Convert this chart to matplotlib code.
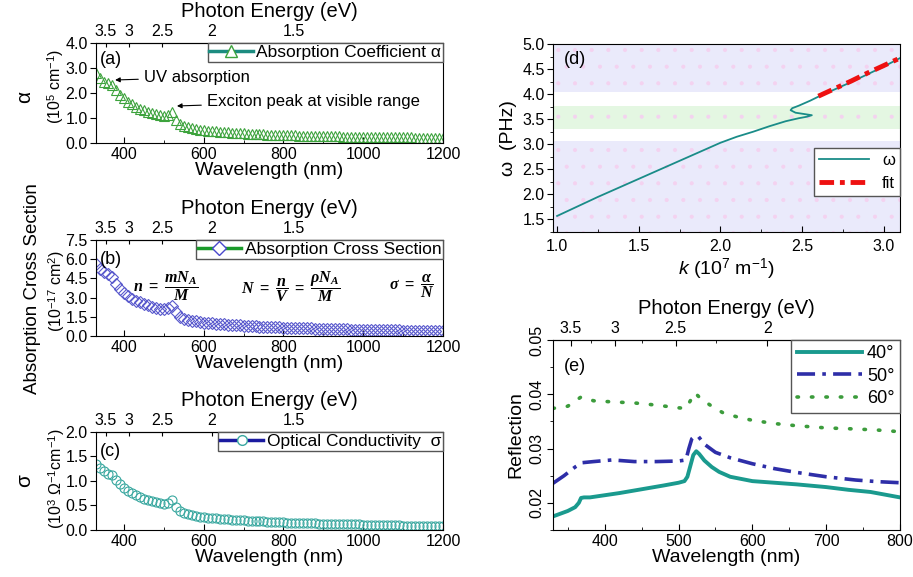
import numpy as np
import matplotlib
matplotlib.use("Agg")
import matplotlib.pyplot as plt
from matplotlib.lines import Line2D
from matplotlib.ticker import MultipleLocator, FormatStrFormatter

plt.rcParams['font.family'] = ['Liberation Sans', 'DejaVu Sans']
plt.rcParams['mathtext.fontset'] = 'custom'
plt.rcParams['mathtext.rm'] = 'Liberation Sans'
plt.rcParams['mathtext.it'] = 'Liberation Serif:italic:bold'
plt.rcParams['mathtext.bf'] = 'Liberation Serif:bold'
plt.rcParams['mathtext.sf'] = 'Liberation Sans:italic'
plt.rcParams['hatch.linewidth'] = 0.5

# ---- data: panels (a)-(c), wavelength in nm ----
wl = [330, 340, 350, 360, 370, 380, 390, 400, 410, 420,
      430, 440, 450, 460, 470, 480, 490, 500, 510, 520,
      530, 540, 550, 560, 570, 580, 590, 600, 610, 620,
      630, 640, 650, 660, 670, 680, 690, 700, 710, 720,
      730, 740, 750, 760, 770, 780, 790, 800, 810, 820,
      830, 840, 850, 860, 870, 880, 890, 900, 910, 920,
      930, 940, 950, 960, 970, 980, 990, 1000, 1010, 1020,
      1030, 1040, 1050, 1060, 1070, 1080, 1090, 1100, 1110, 1120,
      1130, 1140, 1150, 1160, 1170, 1180, 1190, 1200]

alpha = [2.78, 2.6, 2.45, 2.38, 2.3, 2.1, 1.93, 1.78, 1.65, 1.54,
         1.45, 1.37, 1.3, 1.24, 1.19, 1.14, 1.1, 1.07, 1.1, 1.22,
         0.92, 0.75, 0.67, 0.62, 0.58, 0.55, 0.53, 0.51, 0.49, 0.47,
         0.46, 0.44, 0.43, 0.42, 0.41, 0.4, 0.39, 0.38, 0.37, 0.36,
         0.355, 0.35, 0.34, 0.335, 0.33, 0.325, 0.32, 0.315, 0.31, 0.305,
         0.3, 0.295, 0.29, 0.285, 0.28, 0.278, 0.275, 0.27, 0.268, 0.265,
         0.262, 0.26, 0.257, 0.255, 0.252, 0.25, 0.248, 0.245, 0.243, 0.24,
         0.238, 0.236, 0.234, 0.232, 0.23, 0.228, 0.226, 0.224, 0.222, 0.22,
         0.218, 0.216, 0.214, 0.212, 0.21, 0.208, 0.206, 0.205]

cross = [5.6, 5.25, 5.0, 4.85, 4.6, 4.1, 3.7, 3.35, 3.1, 2.92,
         2.76, 2.62, 2.5, 2.4, 2.3, 2.2, 2.12, 2.07, 2.15, 2.38,
         1.85, 1.5, 1.35, 1.27, 1.2, 1.14, 1.09, 1.05, 1.01, 0.98,
         0.95, 0.92, 0.9, 0.88, 0.86, 0.84, 0.82, 0.8, 0.78, 0.77,
         0.75, 0.74, 0.72, 0.71, 0.7, 0.68, 0.67, 0.66, 0.65, 0.64,
         0.63, 0.62, 0.61, 0.6, 0.59, 0.58, 0.57, 0.56, 0.55, 0.54,
         0.535, 0.53, 0.52, 0.51, 0.505, 0.5, 0.49, 0.485, 0.48, 0.47,
         0.465, 0.46, 0.455, 0.45, 0.44, 0.435, 0.43, 0.425, 0.42, 0.415,
         0.41, 0.405, 0.4, 0.395, 0.39, 0.385, 0.38, 0.375]

cond = [1.35, 1.27, 1.2, 1.15, 1.12, 1.02, 0.93, 0.86, 0.8, 0.75,
        0.71, 0.67, 0.64, 0.61, 0.59, 0.57, 0.55, 0.54, 0.56, 0.62,
        0.47, 0.39, 0.35, 0.32, 0.3, 0.28, 0.27, 0.26, 0.25, 0.24,
        0.235, 0.23, 0.22, 0.215, 0.21, 0.205, 0.2, 0.195, 0.19, 0.185,
        0.18, 0.178, 0.175, 0.172, 0.17, 0.165, 0.16, 0.155, 0.152, 0.15,
        0.148, 0.145, 0.142, 0.14, 0.138, 0.135, 0.132, 0.13, 0.128, 0.126,
        0.124, 0.122, 0.12, 0.118, 0.116, 0.114, 0.112, 0.11, 0.108, 0.106,
        0.104, 0.102, 0.1, 0.098, 0.096, 0.094, 0.092, 0.09, 0.089, 0.088,
        0.087, 0.086, 0.085, 0.084, 0.083, 0.082, 0.081, 0.08]

# ---- data: panel (d), dispersion ----
k_vals = [1.0, 1.25, 1.5, 1.75, 2.0, 2.1, 2.2, 2.3, 2.4, 2.48, 2.53, 2.56,
          2.52, 2.46, 2.43, 2.44, 2.48, 2.55, 2.6, 2.8, 3.0, 3.1]
w_vals = [1.57, 1.95, 2.31, 2.67, 3.03, 3.15, 3.25, 3.36, 3.46, 3.52, 3.55, 3.58,
          3.6, 3.63, 3.68, 3.72, 3.77, 3.87, 3.95, 4.24, 4.55, 4.72]
k_fit = [2.6, 2.7, 2.8, 2.9, 3.0, 3.1]
w_fit = [3.96, 4.11, 4.26, 4.42, 4.57, 4.72]

# ---- data: panel (e), reflection ----
wl40 = [330, 340, 350, 360, 365, 368, 372, 380, 400, 420, 450, 480, 500, 508, 512, 516,
        520, 524, 528, 535, 545, 555, 570, 600, 630, 660, 700, 730, 760, 780, 800]
r40 = [0.0175, 0.018, 0.0185, 0.0192, 0.02, 0.0209, 0.021, 0.021, 0.0214, 0.0218, 0.0225,
       0.0232, 0.0237, 0.024, 0.0248, 0.0268, 0.0288, 0.0295, 0.029, 0.0278, 0.0266, 0.0257,
       0.0248, 0.024, 0.0237, 0.0234, 0.0229, 0.0224, 0.022, 0.0215, 0.021]
wl50 = [330, 345, 360, 370, 385, 410, 440, 470, 500, 510, 514, 518, 522, 527, 535, 550,
        570, 600, 630, 660, 700, 740, 770, 800]
r50 = [0.0236, 0.025, 0.0266, 0.0274, 0.0276, 0.0279, 0.0276, 0.0276, 0.0277, 0.0279, 0.03,
       0.0318, 0.0323, 0.0322, 0.0308, 0.0293, 0.0283, 0.0272, 0.0263, 0.0256, 0.0248,
       0.0242, 0.0239, 0.0237]
wl60 = [330, 350, 368, 385, 410, 440, 470, 500, 510, 516, 522, 530, 545, 560, 580, 600,
        630, 660, 700, 740, 770, 800]
r60 = [0.0374, 0.0378, 0.0395, 0.0388, 0.0386, 0.0384, 0.038, 0.0375, 0.0374, 0.0388,
       0.0403, 0.0392, 0.0378, 0.0366, 0.0358, 0.0352, 0.0346, 0.0342, 0.0338, 0.0336,
       0.0334, 0.0331]

energy_ticks = [3.5, 3, 2.5, 2, 1.5]


def to_ev(x):
    x = np.asarray(x, dtype=float)
    return 1240.0 / np.where(x == 0, 1e-9, x)


fig = plt.figure(figsize=(9.13, 5.77), dpi=100)

TICK = 11.5
LAB = 14
TOPLAB = 14.5


def spectrum_axes(rect, ymax, ystep, ticks_top):
    ax = fig.add_axes(rect)
    ax.set_xlim(330, 1200)
    ax.set_ylim(0, ymax)
    ax.xaxis.set_major_locator(MultipleLocator(200))
    ax.xaxis.set_minor_locator(MultipleLocator(100))
    ax.yaxis.set_major_locator(MultipleLocator(ystep))
    ax.yaxis.set_major_formatter(FormatStrFormatter('%.1f'))
    ax.tick_params(axis='x', direction='in', labelsize=TICK, length=4, pad=3)
    ax.tick_params(axis='x', which='minor', direction='in', length=2.5)
    ax.tick_params(axis='y', direction='out', labelsize=TICK, length=4, pad=2)
    ax.set_xlabel('Wavelength (nm)', fontsize=LAB, labelpad=0)
    sec = ax.secondary_xaxis('top', functions=(to_ev, to_ev))
    sec.set_xticks(ticks_top)
    sec.set_xticklabels([f'{t:g}' for t in ticks_top])
    sec.tick_params(direction='in', length=3, labelsize=TICK, pad=3)
    sec.set_xlabel('Photon Energy (eV)', fontsize=TOPLAB, labelpad=5)
    return ax


leg_kw = dict(loc='upper right', borderaxespad=0, fancybox=False, framealpha=1,
              edgecolor='#555555', fontsize=12.5, handlelength=2.5, borderpad=0.1,
              handletextpad=0.2)
arrow_kw = dict(arrowstyle='-|>', color='black', lw=0.8, mutation_scale=7,
                shrinkA=2, shrinkB=0)

# (a)
ax_a = spectrum_axes([0.1051, 0.7522, 0.3801, 0.1733], 4.0, 1.0, energy_ticks)
ax_a.plot(wl, alpha, ls='none', marker='^', ms=7.5, mfc='none', mec='#3da33d', mew=0.8)
ax_a.legend(handles=[Line2D([], [], color='#1c8c80', lw=2.5, marker='^', ms=8,
                            mfc='white', mec='#3da33d')],
            labels=['Absorption Coefficient α'], **leg_kw)
ax_a.text(0.012, 0.83, '(a)', transform=ax_a.transAxes, fontsize=13, va='center')
ax_a.annotate('UV absorption', xy=(378, 2.52), xytext=(450, 2.62), fontsize=12,
              va='center', arrowprops=arrow_kw)
ax_a.annotate('Exciton peak at visible range', xy=(533, 1.48), xytext=(608, 1.66),
              fontsize=12, va='center', arrowprops=arrow_kw)
fig.text(0.027, 0.832, 'α', rotation=90, fontsize=15, va='center', ha='center')
fig.text(0.061, 0.85, '(10$^5$ cm$^{-1}$)', rotation=90, fontsize=11.5, va='center',
         ha='center')

# (b)
ax_b = spectrum_axes([0.1051, 0.4177, 0.3801, 0.1664], 7.5, 1.5, energy_ticks)
ax_b.plot(wl, cross, ls='none', marker='D', ms=6, mfc='none', mec='#5858cc', mew=0.8)
ax_b.legend(handles=[Line2D([], [], color='#1a9a2a', lw=2.5, marker='D', ms=7,
                            mfc='white', mec='#4848cc')],
            labels=['Absorption Cross Section'], **leg_kw)
ax_b.text(0.012, 0.8, '(b)', transform=ax_b.transAxes, fontsize=13, va='center')
ax_b.text(0.2, 0.52, r'$n\ =\ \dfrac{mN_A}{M}$', transform=ax_b.transAxes,
          fontsize=11.5, ha='center', va='center')
ax_b.text(0.56, 0.52, r'$N\ =\ \dfrac{n}{V}\ =\ \dfrac{\rho N_A}{M}$',
          transform=ax_b.transAxes, fontsize=11.5, ha='center', va='center')
ax_b.text(0.91, 0.52, r'$\sigma\ =\ \dfrac{\alpha}{N}$', transform=ax_b.transAxes,
          fontsize=11.5, ha='center', va='center')
fig.text(0.062, 0.495, '(10$^{-17}$ cm$^2$)', rotation=90, fontsize=11.5, va='center',
         ha='center')
fig.text(0.036, 0.5, 'Absorption Cross Section', rotation=90, fontsize=13.5,
         va='center', ha='center')

# (c)
ax_c = spectrum_axes([0.1051, 0.0815, 0.3801, 0.1698], 2.0, 0.5, energy_ticks)
ax_c.plot(wl, cond, ls='none', marker='o', ms=6.5, mfc='none', mec='#3aa8a0', mew=0.8)
ax_c.legend(handles=[Line2D([], [], color='#1a1aa0', lw=2.5, marker='o', ms=7,
                            mfc='white', mec='#3aa8a0')],
            labels=['Optical Conductivity  σ'], **leg_kw)
ax_c.text(0.012, 0.8, '(c)', transform=ax_c.transAxes, fontsize=13, va='center')
fig.text(0.027, 0.168, 'σ', rotation=90, fontsize=15, va='center', ha='center')
fig.text(0.062, 0.17, '(10$^3$ Ω$^{-1}$cm$^{-1}$)', rotation=90, fontsize=11.5,
         va='center', ha='center')

# (d)
ax_d = fig.add_axes([0.6057, 0.5979, 0.3801, 0.3258])
ax_d.set_xlim(0.975, 3.1)
ax_d.set_ylim(1.25, 5.0)
for lo, hi, fc in [(1.25, 3.07, '#eaeafb'), (3.3, 3.77, '#e4f7e2'), (4.04, 5.0, '#eaeafb')]:
    ax_d.axhspan(lo, hi, facecolor=fc, edgecolor='#f4d2f0', hatch='.', lw=0, zorder=0)
ax_d.plot(k_vals, w_vals, color='#1a8c88', lw=1.3, label='ω')
ax_d.plot(k_fit, w_fit, color='#ee1111', lw=3.5, ls=(0, (3, 1.2, 1, 1.2)), label='fit')
ax_d.xaxis.set_major_locator(MultipleLocator(0.5))
ax_d.xaxis.set_minor_locator(MultipleLocator(0.25))
ax_d.yaxis.set_major_locator(MultipleLocator(0.5))
ax_d.yaxis.set_minor_locator(MultipleLocator(0.25))
ax_d.tick_params(axis='x', which='both', direction='in', labelsize=TICK, length=4, pad=5)
ax_d.tick_params(axis='x', which='minor', length=2.5)
ax_d.tick_params(axis='y', which='both', direction='out', labelsize=TICK, length=4, pad=2)
ax_d.tick_params(axis='y', which='minor', length=2.5)
ax_d.xaxis.set_major_formatter(FormatStrFormatter('%.1f'))
ax_d.yaxis.set_major_formatter(FormatStrFormatter('%.1f'))
ax_d.set_xlabel(r'$\mathsf{k}$ (10$^7$ m$^{-1}$)', fontsize=LAB, labelpad=2)
ax_d.set_ylabel('ω  (PHz)', fontsize=LAB, labelpad=4)
ax_d.text(0.03, 0.92, '(d)', transform=ax_d.transAxes, fontsize=13, va='center')
ax_d.legend(loc='center right', bbox_to_anchor=(1.0, 0.32), borderaxespad=0,
            fancybox=False, framealpha=1, edgecolor='#555555', fontsize=12,
            handlelength=3.0, borderpad=0.3, labelspacing=0.5)

# (e)
ax_e = fig.add_axes([0.6057, 0.0815, 0.3801, 0.3293])
ax_e.plot(wl40, r40, color='#1a9a8e', lw=2.8, label='40°')
ax_e.plot(wl50, r50, color='#2e2ea8', lw=2.6, ls=(0, (5, 2, 1, 2)), label='50°')
ax_e.plot(wl60, r60, color='#3c9c3c', lw=2.6, ls=(0, (0.4, 3.6)),
          dash_capstyle='round', label='60°')
ax_e.set_xlim(330, 800)
ax_e.set_ylim(0.015, 0.05)
ax_e.xaxis.set_major_locator(MultipleLocator(100))
ax_e.xaxis.set_minor_locator(MultipleLocator(50))
ax_e.yaxis.set_major_locator(MultipleLocator(0.01))
ax_e.yaxis.set_minor_locator(MultipleLocator(0.005))
ax_e.tick_params(axis='x', which='both', direction='in', labelsize=TICK, length=4, pad=3)
ax_e.tick_params(axis='x', which='minor', length=2.5)
ax_e.tick_params(axis='y', which='both', direction='out', labelsize=TICK, length=4,
                 labelrotation=90, pad=2)
ax_e.tick_params(axis='y', which='minor', length=2.5)
for lab in ax_e.get_yticklabels():
    lab.set_va('center')
ax_e.set_xlabel('Wavelength (nm)', fontsize=LAB, labelpad=0)
ax_e.set_ylabel('Reflection', fontsize=LAB, labelpad=4)
ax_e.text(0.03, 0.86, '(e)', transform=ax_e.transAxes, fontsize=13, va='center')
sec_e = ax_e.secondary_xaxis('top', functions=(to_ev, to_ev))
sec_e.set_xticks([3.5, 3, 2.5, 2])
sec_e.set_xticklabels(['3.5', '3', '2.5', '2'])
sec_e.xaxis.set_minor_locator(MultipleLocator(0.25))
sec_e.tick_params(which='both', direction='in', length=4, labelsize=TICK, pad=3)
sec_e.tick_params(which='minor', length=2.5)
sec_e.set_xlabel('Photon Energy (eV)', fontsize=TOPLAB, labelpad=5)
ax_e.legend(loc='upper right', borderaxespad=0, fancybox=False, framealpha=1,
            edgecolor='#555555', fontsize=13, handlelength=3.6, borderpad=0.3,
            labelspacing=0.3, handletextpad=0.3)

fig.savefig('out.png', dpi=100)
